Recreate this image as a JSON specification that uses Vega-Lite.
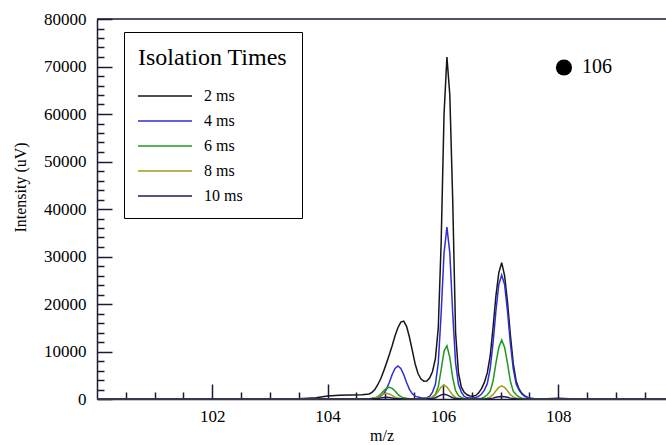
{
  "$schema": "https://vega.github.io/schema/vega-lite/v6.json",
  "width": 569,
  "height": 380,
  "autosize": {"type": "none"},
  "padding": {"left": 97, "top": 19, "right": 0, "bottom": 46},
  "background": "white",
  "config": {"view": {"stroke": null}, "font": "Liberation Serif", "axis": {"labelOverlap": false, "labelFlush": false}},
  "layer": [
    {
      "data": {"values": [
        {"mz":100,"2 ms":0,"4 ms":0,"6 ms":0,"8 ms":0,"10 ms":0},
        {"mz":101,"2 ms":0,"4 ms":0,"6 ms":0,"8 ms":0,"10 ms":0},
        {"mz":102,"2 ms":0,"4 ms":0,"6 ms":0,"8 ms":0,"10 ms":0},
        {"mz":103,"2 ms":0,"4 ms":0,"6 ms":0,"8 ms":0,"10 ms":0},
        {"mz":103.5,"2 ms":50,"4 ms":0,"6 ms":0,"8 ms":0,"10 ms":0},
        {"mz":103.8,"2 ms":250,"4 ms":0,"6 ms":0,"8 ms":0,"10 ms":0},
        {"mz":104.0,"2 ms":650,"4 ms":0,"6 ms":0,"8 ms":0,"10 ms":0},
        {"mz":104.2,"2 ms":800,"4 ms":0,"6 ms":0,"8 ms":0,"10 ms":0},
        {"mz":104.4,"2 ms":850,"4 ms":0,"6 ms":0,"8 ms":0,"10 ms":0},
        {"mz":104.6,"2 ms":900,"4 ms":20,"6 ms":15,"8 ms":10,"10 ms":3},
        {"mz":104.72,"2 ms":1050,"4 ms":50,"6 ms":60,"8 ms":48,"10 ms":14},
        {"mz":104.77,"2 ms":1400,"4 ms":105,"6 ms":145,"8 ms":95,"10 ms":28},
        {"mz":104.82,"2 ms":2000,"4 ms":220,"6 ms":245,"8 ms":187,"10 ms":55},
        {"mz":104.87,"2 ms":3000,"4 ms":400,"6 ms":485,"8 ms":396,"10 ms":115},
        {"mz":104.92,"2 ms":4200,"4 ms":590,"6 ms":980,"8 ms":765,"10 ms":223},
        {"mz":104.97,"2 ms":5800,"4 ms":1085,"6 ms":1670,"8 ms":1062,"10 ms":310},
        {"mz":105.02,"2 ms":7500,"4 ms":2020,"6 ms":2240,"8 ms":1200,"10 ms":350},
        {"mz":105.07,"2 ms":9300,"4 ms":3475,"6 ms":2460,"8 ms":1062,"10 ms":310},
        {"mz":105.12,"2 ms":11200,"4 ms":5160,"6 ms":2240,"8 ms":765,"10 ms":223},
        {"mz":105.17,"2 ms":13300,"4 ms":6415,"6 ms":1670,"8 ms":396,"10 ms":115},
        {"mz":105.22,"2 ms":15000,"4 ms":6950,"6 ms":980,"8 ms":187,"10 ms":55},
        {"mz":105.27,"2 ms":16200,"4 ms":6415,"6 ms":485,"8 ms":95,"10 ms":28},
        {"mz":105.32,"2 ms":16400,"4 ms":5160,"6 ms":245,"8 ms":48,"10 ms":14},
        {"mz":105.37,"2 ms":15300,"4 ms":3475,"6 ms":145,"8 ms":20,"10 ms":6},
        {"mz":105.42,"2 ms":13000,"4 ms":2020,"6 ms":75,"8 ms":8,"10 ms":0},
        {"mz":105.47,"2 ms":10200,"4 ms":1085,"6 ms":35,"8 ms":0,"10 ms":0},
        {"mz":105.52,"2 ms":7300,"4 ms":590,"6 ms":15,"8 ms":0,"10 ms":0},
        {"mz":105.57,"2 ms":5300,"4 ms":400,"6 ms":5,"8 ms":0,"10 ms":0},
        {"mz":105.62,"2 ms":4200,"4 ms":270,"6 ms":0,"8 ms":0,"10 ms":0},
        {"mz":105.67,"2 ms":3750,"4 ms":215,"6 ms":25,"8 ms":40,"10 ms":12},
        {"mz":105.72,"2 ms":3800,"4 ms":290,"6 ms":75,"8 ms":85,"10 ms":29},
        {"mz":105.77,"2 ms":4400,"4 ms":540,"6 ms":165,"8 ms":177,"10 ms":61},
        {"mz":105.82,"2 ms":5800,"4 ms":1450,"6 ms":440,"8 ms":340,"10 ms":117},
        {"mz":105.87,"2 ms":8500,"4 ms":3080,"6 ms":970,"8 ms":805,"10 ms":278},
        {"mz":105.92,"2 ms":15000,"4 ms":7600,"6 ms":2550,"8 ms":1645,"10 ms":567},
        {"mz":105.97,"2 ms":33000,"4 ms":18100,"6 ms":6160,"8 ms":2520,"10 ms":869},
        {"mz":106.02,"2 ms":60000,"4 ms":30770,"6 ms":10090,"8 ms":2900,"10 ms":1000},
        {"mz":106.07,"2 ms":72000,"4 ms":36200,"6 ms":11210,"8 ms":2520,"10 ms":869},
        {"mz":106.12,"2 ms":64000,"4 ms":30770,"6 ms":8740,"8 ms":1645,"10 ms":567},
        {"mz":106.17,"2 ms":42000,"4 ms":18100,"6 ms":4450,"8 ms":805,"10 ms":278},
        {"mz":106.22,"2 ms":14000,"4 ms":7600,"6 ms":1745,"8 ms":340,"10 ms":117},
        {"mz":106.27,"2 ms":5500,"4 ms":3080,"6 ms":730,"8 ms":177,"10 ms":61},
        {"mz":106.32,"2 ms":2500,"4 ms":1450,"6 ms":320,"8 ms":85,"10 ms":29},
        {"mz":106.37,"2 ms":1400,"4 ms":540,"6 ms":125,"8 ms":35,"10 ms":12},
        {"mz":106.42,"2 ms":900,"4 ms":250,"6 ms":55,"8 ms":15,"10 ms":5},
        {"mz":106.47,"2 ms":650,"4 ms":205,"6 ms":20,"8 ms":0,"10 ms":0},
        {"mz":106.52,"2 ms":600,"4 ms":220,"6 ms":10,"8 ms":0,"10 ms":0},
        {"mz":106.57,"2 ms":750,"4 ms":300,"6 ms":45,"8 ms":0,"10 ms":0},
        {"mz":106.62,"2 ms":1300,"4 ms":575,"6 ms":90,"8 ms":20,"10 ms":4},
        {"mz":106.67,"2 ms":2200,"4 ms":1045,"6 ms":180,"8 ms":45,"10 ms":9},
        {"mz":106.72,"2 ms":3500,"4 ms":1880,"6 ms":430,"8 ms":110,"10 ms":22},
        {"mz":106.77,"2 ms":5500,"4 ms":3230,"6 ms":885,"8 ms":217,"10 ms":43},
        {"mz":106.82,"2 ms":9000,"4 ms":6370,"6 ms":1650,"8 ms":430,"10 ms":86},
        {"mz":106.87,"2 ms":15000,"4 ms":11800,"6 ms":3790,"8 ms":908,"10 ms":182},
        {"mz":106.92,"2 ms":21700,"4 ms":18590,"6 ms":7560,"8 ms":1750,"10 ms":350},
        {"mz":106.97,"2 ms":26600,"4 ms":24100,"6 ms":10890,"8 ms":2435,"10 ms":487},
        {"mz":107.02,"2 ms":28700,"4 ms":26100,"6 ms":12400,"8 ms":2750,"10 ms":550},
        {"mz":107.07,"2 ms":26000,"4 ms":24100,"6 ms":10890,"8 ms":2435,"10 ms":487},
        {"mz":107.12,"2 ms":20500,"4 ms":18590,"6 ms":7560,"8 ms":1750,"10 ms":350},
        {"mz":107.17,"2 ms":13500,"4 ms":11800,"6 ms":3790,"8 ms":908,"10 ms":182},
        {"mz":107.22,"2 ms":7500,"4 ms":6370,"6 ms":1650,"8 ms":430,"10 ms":86},
        {"mz":107.27,"2 ms":3800,"4 ms":3230,"6 ms":885,"8 ms":217,"10 ms":43},
        {"mz":107.32,"2 ms":2100,"4 ms":1880,"6 ms":430,"8 ms":110,"10 ms":22},
        {"mz":107.37,"2 ms":1200,"4 ms":1045,"6 ms":180,"8 ms":45,"10 ms":9},
        {"mz":107.42,"2 ms":650,"4 ms":575,"6 ms":90,"8 ms":20,"10 ms":4},
        {"mz":107.47,"2 ms":330,"4 ms":300,"6 ms":45,"8 ms":0,"10 ms":0},
        {"mz":107.52,"2 ms":180,"4 ms":170,"6 ms":15,"8 ms":0,"10 ms":0},
        {"mz":107.57,"2 ms":100,"4 ms":95,"6 ms":0,"8 ms":0,"10 ms":0},
        {"mz":107.62,"2 ms":40,"4 ms":40,"6 ms":0,"8 ms":0,"10 ms":0},
        {"mz":107.7,"2 ms":20,"4 ms":0,"6 ms":0,"8 ms":0,"10 ms":0},
        {"mz":107.8,"2 ms":30,"4 ms":0,"6 ms":0,"8 ms":0,"10 ms":0},
        {"mz":108.0,"2 ms":150,"4 ms":0,"6 ms":0,"8 ms":0,"10 ms":0},
        {"mz":108.2,"2 ms":30,"4 ms":0,"6 ms":0,"8 ms":0,"10 ms":0},
        {"mz":108.5,"2 ms":0,"4 ms":0,"6 ms":0,"8 ms":0,"10 ms":0},
        {"mz":109.0,"2 ms":0,"4 ms":0,"6 ms":0,"8 ms":0,"10 ms":0},
        {"mz":109.87,"2 ms":0,"4 ms":0,"6 ms":0,"8 ms":0,"10 ms":0}
      ]},
      "transform": [{"fold": ["2 ms", "4 ms", "6 ms", "8 ms", "10 ms"], "as": ["series", "intensity"]}],
      "mark": {"type": "line", "strokeWidth": 1.5},
      "encoding": {
        "x": {
          "field": "mz", "type": "quantitative",
          "scale": {"domain": [100, 109.87], "nice": false, "zero": false},
          "axis": {
            "values": [100.5,101,101.5,102,102.5,103,103.5,104,104.5,105,105.5,106,106.5,107,107.5,108,108.5,109,109.5],
            "tickCount": 200,
            "labelExpr": "datum.value % 2 === 0 ? '' + datum.value : ''",
            "tickSize": {"condition": {"test": "datum.value % 2 === 0", "value": -15}, "value": -7},
            "tickColor": "#1a1a33", "tickWidth": 1.5,
            "domainColor": "#1a1a33", "domainWidth": 1.5,
            "labelFont": "Liberation Serif", "labelFontSize": 17, "labelColor": "black",
            "labelPadding": 24, "labelFlush": false, "labelOverlap": false,
            "grid": false,
            "title": "m/z", "titleFont": "Liberation Serif", "titleFontSize": 16,
            "titleFontWeight": "normal", "titleColor": "black",
            "titleY": 41, "titleBaseline": "alphabetic"
          }
        },
        "y": {
          "field": "intensity", "type": "quantitative",
          "scale": {"domain": [0, 80000], "nice": false},
          "axis": {
            "values": [0,2000,4000,6000,8000,10000,12000,14000,16000,18000,20000,22000,24000,26000,28000,30000,32000,34000,36000,38000,40000,42000,44000,46000,48000,50000,52000,54000,56000,58000,60000,62000,64000,66000,68000,70000,72000,74000,76000,78000,80000],
            "tickCount": 200,
            "labelExpr": "datum.value % 10000 === 0 ? '' + datum.value : ''",
            "tickSize": {"condition": {"test": "datum.value % 10000 === 0", "value": -15}, "value": -7},
            "tickColor": "#1a1a33", "tickWidth": 1.5,
            "domainColor": "#1a1a33", "domainWidth": 1.5,
            "labelFont": "Liberation Serif", "labelFontSize": 17, "labelColor": "black",
            "labelPadding": 26, "labelFlush": false, "labelOverlap": false,
            "grid": false,
            "title": "Intensity (uV)", "titleFont": "Liberation Serif", "titleFontSize": 16,
            "titleFontWeight": "normal", "titleColor": "black",
            "titleX": -77, "titleY": 168, "titleAngle": -90, "titleBaseline": "middle", "titleAlign": "center"
          }
        },
        "color": {
          "field": "series", "type": "nominal",
          "scale": {"domain": ["2 ms", "4 ms", "6 ms", "8 ms", "10 ms"], "range": ["#161616", "#2e2ed2", "#1e9a1e", "#9c9c1e", "#1c1c55"]},
          "legend": {
            "orient": "none", "legendX": 27, "legendY": 13,
            "title": "Isolation Times", "titleFont": "Liberation Serif", "titleFontSize": 24,
            "titleFontWeight": "normal", "titleColor": "black", "titlePadding": 18,
            "labelFont": "Liberation Serif", "labelFontSize": 16, "labelColor": "black",
            "symbolType": "M-1.4545,0H8.3636", "symbolSize": 121, "symbolStrokeWidth": 1.5,
            "labelOffset": 50, "rowPadding": 9,
            "strokeColor": "black", "padding": 14, "fillColor": "white"
          }
        }
      }
    },
    {
      "data": {"values": [{"top": 80000}]},
      "mark": {"type": "rule", "color": "#1a1a33", "strokeWidth": 1.5},
      "encoding": {"y": {"field": "top", "type": "quantitative"}}
    },
    {
      "data": {"values": [{"mz": 108.1, "i": 69800, "label": "106"}]},
      "mark": {"type": "point", "filled": true, "color": "black", "size": 260, "opacity": 1},
      "encoding": {"x": {"field": "mz", "type": "quantitative"}, "y": {"field": "i", "type": "quantitative"}}
    },
    {
      "data": {"values": [{"mz": 108.1, "i": 69800, "label": "106"}]},
      "mark": {"type": "text", "align": "left", "baseline": "middle", "dx": 18, "fontSize": 20, "font": "Liberation Serif", "color": "black"},
      "encoding": {"x": {"field": "mz", "type": "quantitative"}, "y": {"field": "i", "type": "quantitative"}, "text": {"field": "label"}}
    }
  ]
}
